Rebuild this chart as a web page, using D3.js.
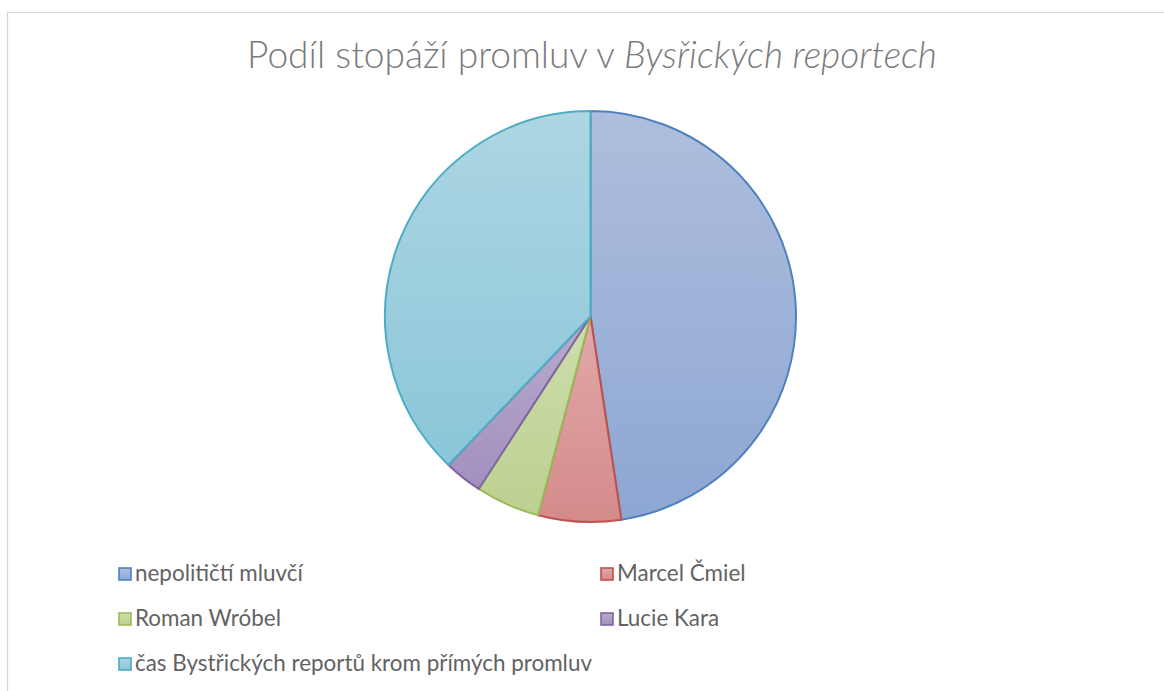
<!DOCTYPE html>
<html>
<head>
  <meta charset="utf-8">
  <script src="https://d3js.org/d3.v7.min.js"></script>
  <style>
    body { margin: 0; background: #fff; }
    svg text { font-family: Lato, "Open Sans", sans-serif; fill: #636363; }
  </style>
</head>
<body>
<div id="chart"></div>
<script>
// data (share of time, %)
const labels = ["nepolitičtí mluvčí", "Marcel Čmiel", "Roman Wróbel", "Lucie Kara", "čas Bystřických reportů krom přímých promluv"];
const values = [47.6, 6.5, 5.05, 3.0, 37.85];
const strokes = ["#4F81BD", "#C0504D", "#9BBB59", "#8064A2", "#4BACC6"];
const topFill = ["#AEBEDD", "#E0A9A8", "#CEDDAE", "#B8ACCD", "#AED6E3"];
const botFill = ["#8DA7D3", "#D48B8A", "#BCD090", "#A28FBE", "#8AC6D9"];

const width = 1164, height = 691;
const cx = 590.5, cy = 316.5, r = 205.5;

const svg = d3.select("#chart").append("svg")
  .attr("width", width)
  .attr("height", height);

// chart area frame (only left and top are in view)
svg.append("rect")
  .attr("x", 7.5).attr("y", 12.5)
  .attr("width", 1200).attr("height", 720)
  .attr("fill", "none")
  .attr("stroke", "#D9D9D9")
  .attr("stroke-width", 1.3);

const defs = svg.append("defs");
labels.forEach((l, i) => {
  const g = defs.append("linearGradient")
    .attr("id", "grad" + i)
    .attr("x1", 0).attr("y1", 0).attr("x2", 0).attr("y2", 1);
  g.append("stop").attr("offset", "0%").attr("stop-color", topFill[i]);
  g.append("stop").attr("offset", "100%").attr("stop-color", botFill[i]);
});

// title
const title = svg.append("text")
  .attr("x", 592).attr("y", 68)
  .attr("text-anchor", "middle")
  .style("font-size", "29px")
  .style("font-weight", 300)
  .style("fill", "#7b7b7b");
title.append("tspan").text("Podíl stopáží promluv v ");
title.append("tspan").style("font-style", "italic").text("Bysřických reportech");
// fit to the width of the original title
let tw = title.node().getComputedTextLength();
title.style("font-size", (29 * 690 / tw) + "px");

// pie
const pie = d3.pie().sort(null).value(d => d)(values);
const arc = d3.arc().innerRadius(0).outerRadius(r);

svg.append("g")
  .attr("transform", `translate(${cx},${cy})`)
  .selectAll("path")
  .data(pie)
  .join("path")
    .attr("d", arc)
    .attr("fill", (d, i) => `url(#grad${i})`)
    .attr("stroke", (d, i) => strokes[i])
    .attr("stroke-width", 2)
    .attr("stroke-linejoin", "round");

// legend
const legendPos = [[119, 574], [601, 574], [119, 619], [601, 619], [119, 664]];
const leg = svg.append("g")
  .selectAll("g")
  .data(labels)
  .join("g")
    .attr("transform", (d, i) => `translate(${legendPos[i][0]},${legendPos[i][1]})`);

leg.append("rect")
  .attr("x", 0).attr("y", -6)
  .attr("width", 12).attr("height", 12)
  .attr("fill", (d, i) => `url(#grad${i})`)
  .attr("stroke", (d, i) => strokes[i])
  .attr("stroke-width", 1.6);

const legText = leg.append("text")
  .attr("x", 16).attr("y", 6.5)
  .style("font-size", "18px")
  .text(d => d);

// scale legend font so "nepolitičtí mluvčí" is about 168px wide
const lw = legText.nodes()[0].getComputedTextLength();
legText.style("font-size", (18 * 168 / lw) + "px");
</script>
</body>
</html>
